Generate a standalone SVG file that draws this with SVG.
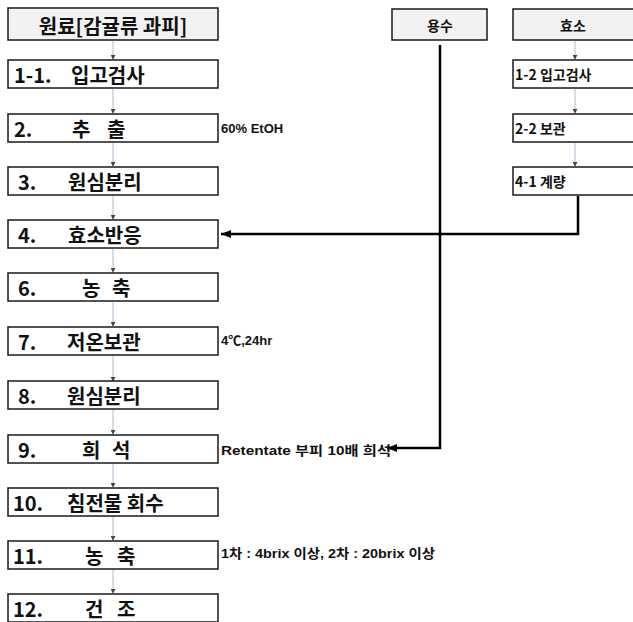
<svg xmlns="http://www.w3.org/2000/svg" width="633" height="622" viewBox="0 0 633 622">
<defs>
<style>
.box{fill:#ffffff;stroke:#1a1a1a;stroke-width:1.5}
.hd{fill:#f2f2f2;stroke:#1a1a1a;stroke-width:1.5}
.t{font-family:"Noto Sans CJK KR","Liberation Sans",sans-serif;font-weight:bold;font-size:20px;fill:#111}
.s{font-family:"Noto Sans CJK KR","Liberation Sans",sans-serif;font-weight:bold;font-size:14px;fill:#111}
.a{font-family:"Liberation Sans","Noto Sans CJK KR",sans-serif;font-weight:bold;font-size:13px;fill:#111}
.sm{stroke:#a9bbd0;stroke-width:1;fill:none}
.big{stroke:#000;stroke-width:2.5;fill:none}
</style>
<marker id="sa" viewBox="0 0 6 6" refX="5" refY="3" markerWidth="5" markerHeight="5" markerUnits="userSpaceOnUse" orient="auto">
<path d="M0,0 L6,3 L0,6 Z" fill="#444"/>
</marker>
<marker id="ba" viewBox="0 0 10 8" refX="10" refY="4" markerWidth="10" markerHeight="8" markerUnits="userSpaceOnUse" orient="auto">
<path d="M0,0 L10,4 L0,8 Z" fill="#000"/>
</marker>
</defs>
<rect width="633" height="622" fill="#ffffff"/>

<g id="connectors">
<path class="sm" d="M113 41 V59" marker-end="url(#sa)"/>
<path class="sm" d="M113 89 V113" marker-end="url(#sa)"/>
<path class="sm" d="M113 143 V166" marker-end="url(#sa)"/>
<path class="sm" d="M113 195 V219" marker-end="url(#sa)"/>
<path class="sm" d="M113 249 V272" marker-end="url(#sa)"/>
<path class="sm" d="M113 302 V326" marker-end="url(#sa)"/>
<path class="sm" d="M113 356 V381" marker-end="url(#sa)"/>
<path class="sm" d="M113 410 V434" marker-end="url(#sa)"/>
<path class="sm" d="M113 464 V487" marker-end="url(#sa)"/>
<path class="sm" d="M113 517 V540" marker-end="url(#sa)"/>
<path class="sm" d="M113 570 V593" marker-end="url(#sa)"/>
<path class="sm" d="M575 41 V59" marker-end="url(#sa)"/>
<path class="sm" d="M575 89 V113" marker-end="url(#sa)"/>
<path class="sm" d="M575 143 V166" marker-end="url(#sa)"/>
<path class="big" d="M578 196 V234 H221" marker-end="url(#ba)"/>
<path class="big" d="M440 45 V448 H387" marker-end="url(#ba)"/>
</g>

<g id="n0"><rect class="hd" x="8" y="8" width="210" height="32"/><text class="t" x="113" y="34" text-anchor="middle">원료[감귤류 과피]</text></g>
<g id="n1"><rect class="box" x="8" y="60" width="210" height="28"/><text class="t" x="14" y="83">1-1.</text><text class="t" x="71" y="83">입고검사</text></g>
<g id="n2"><rect class="box" x="8" y="114" width="210" height="28"/><text class="t" x="14" y="137">2.</text><text class="t" x="72" y="137">추</text><text class="t" x="107" y="137">출</text></g>
<g id="n3"><rect class="box" x="8" y="167" width="210" height="28"/><text class="t" x="18" y="190">3.</text><text class="t" x="68" y="190">원심분리</text></g>
<g id="n4"><rect class="box" x="8" y="220" width="210" height="28"/><text class="t" x="18" y="243">4.</text><text class="t" x="68" y="243">효소반응</text></g>
<g id="n6"><rect class="box" x="8" y="273" width="210" height="28"/><text class="t" x="18" y="296">6.</text><text class="t" x="82" y="296">농</text><text class="t" x="112" y="296">축</text></g>
<g id="n7"><rect class="box" x="8" y="327" width="210" height="28"/><text class="t" x="18" y="350">7.</text><text class="t" x="67" y="350">저온보관</text></g>
<g id="n8"><rect class="box" x="8" y="381" width="210" height="28"/><text class="t" x="18" y="404">8.</text><text class="t" x="67" y="404">원심분리</text></g>
<g id="n9"><rect class="box" x="8" y="435" width="210" height="28"/><text class="t" x="18" y="458">9.</text><text class="t" x="82" y="458">희</text><text class="t" x="112" y="458">석</text></g>
<g id="n10"><rect class="box" x="8" y="488" width="210" height="28"/><text class="t" x="13" y="511">10.</text><text class="t" x="67" y="511">침전물 회수</text></g>
<g id="n11"><rect class="box" x="8" y="541" width="210" height="28"/><text class="t" x="13" y="564">11.</text><text class="t" x="85" y="564">농</text><text class="t" x="117" y="564">축</text></g>
<g id="n12"><rect class="box" x="8" y="594" width="210" height="28"/><text class="t" x="13" y="617">12.</text><text class="t" x="85" y="617">건</text><text class="t" x="117" y="617">조</text></g>

<g id="w0"><rect class="hd" x="392" y="9" width="95" height="31"/><text class="s" x="440" y="31" text-anchor="middle">용수</text></g>
<g id="e0"><rect class="hd" x="513" y="9" width="125" height="31"/><text class="s" x="573" y="31" text-anchor="middle">효소</text></g>
<g id="e1"><rect class="box" x="513" y="60" width="125" height="28"/><text class="s" x="515" y="80">1-2 입고검사</text></g>
<g id="e2"><rect class="box" x="513" y="114" width="125" height="28"/><text class="s" x="515" y="134">2-2 보관</text></g>
<g id="e3"><rect class="box" x="513" y="167" width="125" height="28"/><text class="s" x="515" y="187">4-1 계량</text></g>

<g id="notes">
<text class="a" x="221" y="133">60% EtOH</text>
<text class="a" x="221" y="345" font-weight="normal">4℃,24hr</text>
<text class="a" x="221" y="455" textLength="170" lengthAdjust="spacingAndGlyphs">Retentate 부피 10배 희석</text>
<text class="a" x="221" y="558" textLength="214" lengthAdjust="spacingAndGlyphs">1차 : 4brix 이상, 2차 : 20brix 이상</text>
</g>
</svg>
